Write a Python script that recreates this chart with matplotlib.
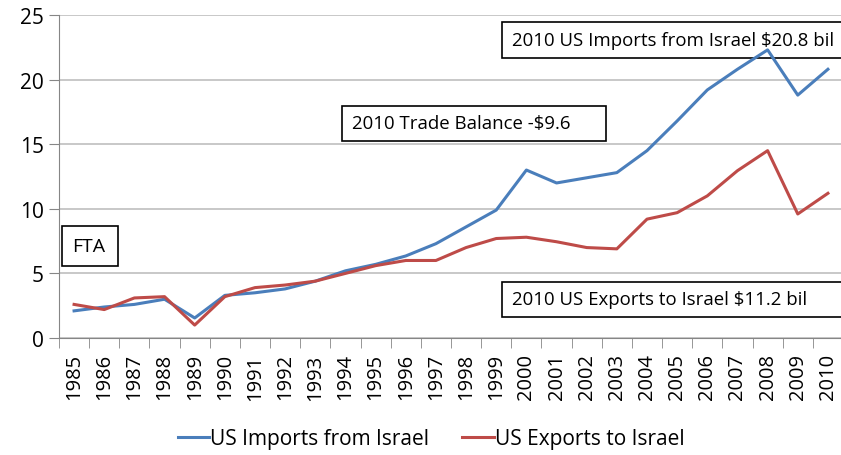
import numpy as np
import matplotlib
matplotlib.use('Agg')
import matplotlib.pyplot as plt
from matplotlib.patches import Rectangle

# Data (billions USD)
years = [str(y) for y in range(1985, 2011)]
imports = [2.1, 2.4, 2.6, 3.0, 1.55, 3.3, 3.5, 3.8, 4.4, 5.2, 5.7, 6.35, 7.3, 8.6, 9.9,
           13.0, 12.0, 12.4, 12.8, 14.5, 16.8, 19.2, 20.8, 22.3, 18.8, 20.8]
exports = [2.6, 2.2, 3.1, 3.2, 1.0, 3.2, 3.9, 4.1, 4.4, 5.0, 5.6, 6.0, 6.0, 7.0, 7.7,
           7.8, 7.45, 7.0, 6.9, 9.2, 9.7, 11.0, 12.95, 14.5, 9.6, 11.2]

plt.rcParams['font.family'] = ['Open Sans', 'DejaVu Sans']

W, H = 841, 456
fig = plt.figure(figsize=(W / 100, H / 100), dpi=100)
ax = fig.add_axes([59 / W, 1 - 339 / H, 784 / W, 323 / H])

x = np.arange(len(years))
ax.plot(x, imports, color='#4A7EBB', lw=2.2, label='US Imports from Israel', zorder=3)
ax.plot(x, exports, color='#BE4B48', lw=2.2, label='US Exports to Israel', zorder=3)

ax.set_xlim(-0.5, len(years) - 0.5)
ax.set_ylim(0, 25)
ax.set_yticks(range(0, 26, 5))
ax.yaxis.grid(True, color='#BFBFBF', lw=1.2)
ax.set_axisbelow(True)

ax.set_xticks(x)
ax.set_xticklabels(years, rotation=90)
ax.set_xticks(np.arange(-0.5, len(years), 1), minor=True)
ax.tick_params(axis='x', which='major', length=0, pad=11, labelsize=14.5)
ax.tick_params(axis='x', which='minor', length=7, color='#868686')
ax.tick_params(axis='y', length=7, color='#868686', labelsize=15, pad=4)

for s in ['top', 'right']:
    ax.spines[s].set_visible(False)
for s in ['left', 'bottom']:
    ax.spines[s].set_color('#868686')

# annotation boxes, in pixel coords (left, top, right, bottom), lines drawn over them
def note(text, l, t, r, b, size=13.4):
    ax.add_patch(Rectangle((l / W, 1 - b / H), (r - l) / W, (b - t) / H,
                           transform=fig.transFigure, fc='white', ec='black', lw=1.2,
                           zorder=2, clip_on=False))
    ax.text((l + 10) / W, 1 - (t + b) / 2 / H, text, fontsize=size, va='center',
            transform=fig.transFigure, zorder=2.5, clip_on=False)

note('FTA', 62, 227, 118, 267, size=14)
note('2010 Trade Balance -$9.6', 342, 107, 606, 142)
note('2010 US Imports from Israel $20.8 bil', 502, 23, 852, 59)
note('2010 US Exports to Israel $11.2 bil', 502, 283, 852, 318)

fig.legend(loc='center', bbox_to_anchor=(431 / W, 1 - 440 / H), ncol=2, frameon=False,
           fontsize=15, handlelength=1.5, handletextpad=0.05, columnspacing=1.6)

fig.savefig('out.png', dpi=100)
